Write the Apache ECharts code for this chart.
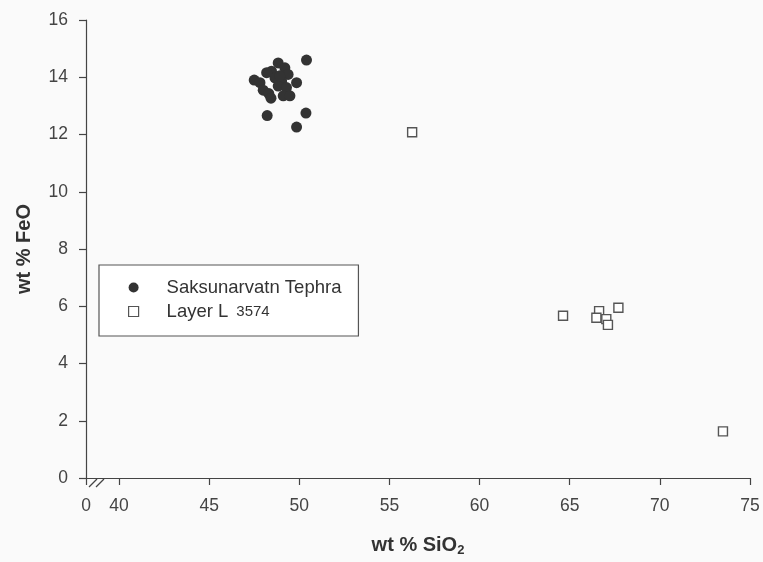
<!DOCTYPE html>
<html>
<head>
<meta charset="utf-8">
<script src="https://cdn.jsdelivr.net/npm/echarts@6/dist/echarts.min.js"></script>
<style>
html,body{margin:0;padding:0;background:#fafafa;}
#c{width:763px;height:562px;}
</style>
</head>
<body>
<div id="c"></div>
<script>
// ---- data ----
const seriesNames = ['Saksunarvatn Tephra', 'Layer L 3574'];
const saksunarvatnSiO2 = [50.40, 47.50, 47.82, 48.00, 48.31, 48.43, 48.83, 48.46, 49.20, 49.38, 48.65, 49.02, 48.83, 49.29, 49.85, 49.11, 49.48, 48.19, 48.22, 49.85, 50.37, 48.92];
const saksunarvatnFeO  = [14.60, 13.90, 13.81, 13.55, 13.43, 13.27, 14.50, 14.21, 14.33, 14.10, 13.98, 13.87, 13.69, 13.64, 13.81, 13.35, 13.35, 14.16, 12.66, 12.26, 12.75, 14.05];
const layerLSiO2 = [56.26, 64.63, 66.63, 66.48, 67.03, 67.12, 67.70, 73.50];
const layerLFeO  = [12.08, 5.67, 5.83, 5.60, 5.55, 5.35, 5.95, 1.63];
const xTickValues = [40, 45, 50, 55, 60, 65, 70, 75];
const xBreakLabel = '0';
const yTickInterval = 2;

// ---- chart ----
const xMin = 38.17;
const zip = (a, b) => a.map((v, i) => [v, b[i]]);
const chart = echarts.init(document.getElementById('c'));
const axisColor = '#444';
const xTicks = [xMin].concat(xTickValues);
chart.setOption({
  backgroundColor: '#fafafa',
  animation: false,
  textStyle: { fontFamily: 'Liberation Sans, Arial, sans-serif' },
  grid: { left: 86, right: 13, top: 20, bottom: 79, containLabel: false },
  xAxis: {
    type: 'value', min: xMin, max: 75,
    name: '{a|wt % SiO}{s|2}', nameLocation: 'middle', nameGap: 55,
    nameTextStyle: { rich: {
      a: { fontSize: 20, fontWeight: 'bold', color: '#333', fontFamily: 'Liberation Sans' },
      s: { fontSize: 13, fontWeight: 'bold', color: '#333', fontFamily: 'Liberation Sans', padding: [11, 0, 0, 0] }
    } },
    axisLine: { show: true, lineStyle: { color: axisColor, width: 1.2 } },
    axisTick: { show: true, inside: false, length: 7, customValues: xTicks, lineStyle: { color: axisColor, width: 1.2 } },
    axisLabel: { customValues: xTicks, margin: 19, fontSize: 17.5, color: '#444',
      formatter: v => (v < 39 ? xBreakLabel : String(Math.round(v))) },
    splitLine: { show: false }
  },
  yAxis: {
    type: 'value', min: 0, max: 16, interval: yTickInterval,
    name: 'wt % FeO', nameLocation: 'middle', nameGap: 52,
    nameTextStyle: { fontSize: 20, fontWeight: 'bold', color: '#333', fontFamily: 'Liberation Sans' },
    axisLine: { show: true, lineStyle: { color: axisColor, width: 1.2 } },
    axisTick: { show: true, inside: false, length: 7, lineStyle: { color: axisColor, width: 1.2 } },
    axisLabel: { margin: 18, fontSize: 17.5, color: '#444' },
    splitLine: { show: false }
  },
  legend: {
    orient: 'vertical', left: 99, top: 265,
    backgroundColor: '#fff', borderColor: '#555', borderWidth: 1.2,
    padding: [13, 17, 15, 29], itemGap: 5, itemWidth: 10, itemHeight: 10,
    data: [
      { name: seriesNames[0], icon: 'circle' },
      { name: seriesNames[1], icon: 'rect', itemStyle: { color: '#fff', borderColor: '#555', borderWidth: 1.2 } }
    ],
    formatter: n => {
      if (n === seriesNames[1]) return '{t|Layer L}{n|3574}';
      return '{t|' + n + '}';
    },
    textStyle: { rich: {
      t: { fontSize: 18.5, color: '#333', lineHeight: 22, padding: [0, 0, 0, 23], fontFamily: 'Liberation Sans' },
      n: { fontSize: 15, color: '#333', lineHeight: 22, padding: [0, 0, 0, 8], fontFamily: 'Liberation Sans' }
    } }
  },
  series: [
    { name: seriesNames[0], type: 'scatter', symbol: 'circle', symbolSize: 11,
      itemStyle: { color: '#333', opacity: 1 },
      data: zip(saksunarvatnSiO2, saksunarvatnFeO) },
    { name: seriesNames[1], type: 'scatter', symbol: 'rect', symbolSize: 9,
      itemStyle: { color: '#fff', borderColor: '#555', borderWidth: 1.4, opacity: 1 },
      data: zip(layerLSiO2, layerLFeO) }
  ],
  graphic: [
    { type: 'rect', z: 100, shape: { x: 88, y: 480, width: 17, height: 6 }, style: { fill: '#fafafa' } },
    { type: 'line', z: 101, shape: { x1: 89, y1: 487, x2: 97, y2: 479 }, style: { stroke: axisColor, lineWidth: 1.2 } },
    { type: 'line', z: 101, shape: { x1: 96, y1: 487, x2: 104, y2: 479 }, style: { stroke: axisColor, lineWidth: 1.2 } }
  ]
});
</script>
</body>
</html>
